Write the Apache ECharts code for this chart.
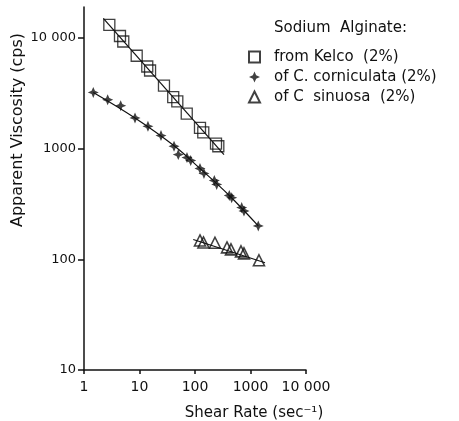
<!DOCTYPE html>
<html>
<head>
<meta charset="utf-8">
<script src="https://cdn.jsdelivr.net/npm/echarts@6/dist/echarts.min.js"></script>
<style>html,body{margin:0;padding:0;background:#fff}#c{width:459px;height:421px}</style>
</head>
<body>
<div id="c"></div>
<script>
// Tick values
const xTicks = [1, 10, 100, 1000, 10000];
const yTicks = [10, 100, 1000, 10000];

// Sodium alginate from Kelco (2%) : [shear rate, viscosity]
const kelcoPts = [[2.86,13100],[4.45,10400],[5.1,9270],[8.9,6890],[13.8,5510],[15.5,5070],[27.6,3700],[40.5,2920],[48,2670],[71,2065],[123,1535],[141,1400],[239,1110],[263,1050]];
const kelcoFit = [[2.23,15000],[333,883]];

// of C. corniculata (2%)
const cornPts = [[1.47,3215],[2.67,2760],[4.58,2440],[8.3,1890],[14.2,1590],[24.4,1310],[41.9,1050],[50,883],[71.7,830],[83.7,780],[123,661],[145,596],[223,515],[246,474],[415,377],[458,360],[694,293],[763,273],[1380,200]];
const cornFit = [[1.47,3215],[8.3,1890],[42,1060],[123,661],[415,377],[1380,200]];

// of C sinuosa (2%)
const sinPts = [[123,148],[142,142],[229,141],[377,128],[445,123],[674,118],[763,113],[1420,98]];
const sinFit = [[93,151],[1825,93]];

const names = ['from Kelco  (2%)', 'of C. corniculata (2%)', 'of C  sinuosa  (2%)'];

const FONT = 'DejaVu Sans';
const INK = '#111';
const fmt = v => (v >= 10000 ? String(v).replace(/(\d)(?=(\d{3})+$)/g, '$1 ') : String(v));
const star = 'path://M0,-5 L1.5,-1.5 L5,0 L1.5,1.5 L0,5 L-1.5,1.5 L-5,0 L-1.5,-1.5 Z';

const chart = echarts.init(document.getElementById('c'), null, {renderer: 'canvas'});
chart.setOption({
  animation: false,
  backgroundColor: '#fff',
  grid: {left: 84, right: 153, top: 7, bottom: 51, containLabel: false},
  xAxis: {
    type: 'log', logBase: 10, min: 1, max: 10000,
    axisLine: {lineStyle: {color: INK, width: 1.5}},
    axisTick: {show: true, inside: false, length: 4, lineStyle: {color: INK, width: 1.5}, customValues: xTicks},
    axisLabel: {color: INK, fontFamily: FONT, fontSize: 14, margin: 10, formatter: fmt, customValues: xTicks},
    minorTick: {show: false},
    splitLine: {show: false}
  },
  yAxis: {
    type: 'log', logBase: 10, min: 10, max: 19000,
    axisLine: {show: true, lineStyle: {color: INK, width: 1.5}},
    axisTick: {show: true, inside: false, length: 6, lineStyle: {color: INK, width: 1.5}, customValues: yTicks},
    axisLabel: {color: INK, fontFamily: FONT, fontSize: 13, margin: 8, formatter: fmt, customValues: yTicks},
    splitLine: {show: false}
  },
  legend: {
    data: names,
    orient: 'vertical',
    left: 243, top: 42,
    itemGap: 0,
    itemWidth: 11, itemHeight: 11,
    textStyle: {color: INK, fontFamily: FONT, fontSize: 15, lineHeight: 20, padding: [0,0,0,9]},
    selectedMode: false
  },
  graphic: [
    {type: 'text', left: 274, top: 21, style: {text: 'Sodium  Alginate:', font: '15px "DejaVu Sans"', fill: INK}},
    {type: 'text', x: 18, y: 130, rotation: Math.PI / 2,
     style: {text: 'Apparent Viscosity (cps)', font: '16px "DejaVu Sans"', fill: INK, align: 'center', verticalAlign: 'middle'}},
    {type: 'text', x: 254, y: 413,
     style: {text: 'Shear Rate (sec\u207B\u00B9)', font: '15px "DejaVu Sans"', fill: INK, align: 'center', verticalAlign: 'middle'}}
  ],
  series: [
    {type: 'line', data: kelcoFit, symbol: 'none', silent: true, lineStyle: {color: INK, width: 1.2}, z: 1},
    {type: 'line', data: cornFit, symbol: 'none', smooth: 0.4, silent: true, lineStyle: {color: INK, width: 1.2}, z: 1},
    {type: 'line', data: sinFit, symbol: 'none', silent: true, lineStyle: {color: INK, width: 1.2}, z: 1},
    {name: names[0], type: 'scatter', data: kelcoPts, symbol: 'rect', symbolSize: 11,
     itemStyle: {color: 'rgba(255,255,255,0)', borderColor: INK, borderWidth: 1.3}, z: 3},
    {name: names[1], type: 'scatter', data: cornPts, symbol: star, symbolSize: 11,
     itemStyle: {color: INK, borderWidth: 0}, z: 3},
    {name: names[2], type: 'scatter', data: sinPts, symbol: 'triangle', symbolSize: 11,
     itemStyle: {color: 'rgba(255,255,255,0)', borderColor: INK, borderWidth: 1.6}, z: 3}
  ]
});
</script>
</body>
</html>
